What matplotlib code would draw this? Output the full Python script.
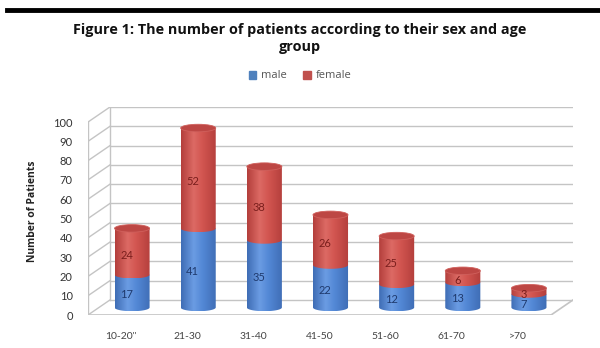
import numpy as np
import matplotlib
matplotlib.use("Agg")
import matplotlib.pyplot as plt
from matplotlib.path import Path
from matplotlib.patches import PathPatch, Ellipse, Rectangle
from matplotlib.colors import LinearSegmentedColormap
from matplotlib.lines import Line2D

categories = ["10-20''", "21-30", "31-40", "41-50", "51-60", "61-70", ">70"]
male = [17, 41, 35, 22, 12, 13, 7]
female = [24, 52, 38, 26, 25, 6, 3]
yticks = list(range(0, 101, 10))

plt.rcParams['font.family'] = ['Lato', 'DejaVu Sans']

DX = 0.332   # depth offset in x units
DY = 7.8     # depth offset in y units
W = 0.53     # cylinder width
EH = 3.9     # ellipse height (y units)
GRID = '#c4c4c4'

fig = plt.figure(figsize=(6.0, 3.48), dpi=100)
fig.patch.set_facecolor('white')
ax = fig.add_axes([88/600, (348-315)/348, 485/600, 208/348])
ax.set_xlim(-0.5, len(categories) - 0.5 + DX)
ax.set_ylim(0, 100 + DY)
for s in ax.spines.values():
    s.set_visible(False)
ax.set_facecolor('none')

n = len(categories)
x0, x1 = -0.5, n - 0.5
# back wall gridlines and side wall lines
for v in yticks:
    ax.plot([x0 + DX, x1 + DX], [v + DY, v + DY], color=GRID, lw=1.0, zorder=1)
    ax.plot([x0, x0 + DX], [v, v + DY], color=GRID, lw=1.0, zorder=1)
ax.plot([x0, x0], [0, 100], color=GRID, lw=1.0, zorder=1)
ax.plot([x0 + DX, x0 + DX], [DY, 100 + DY], color=GRID, lw=1.0, zorder=1)
# floor
ax.plot([x0, x1], [0, 0], color=GRID, lw=1.2, zorder=1)
ax.plot([x1, x1 + DX], [0, DY], color=GRID, lw=1.2, zorder=1)

def grad_cmap(edge, mid, light):
    return LinearSegmentedColormap.from_list('g', [(0, edge), (0.35, light), (0.6, mid), (1, edge)])

blue_cm = grad_cmap('#3f6db5', '#5388d6', '#6b9ce3')
red_cm = grad_cmap('#b43f3c', '#d25550', '#dc6a64')

def body(xc, b, t, cmap, z):
    th = np.linspace(np.pi, 2*np.pi, 60)
    xs = list(xc + W/2*np.cos(th)) + [xc + W/2, xc - W/2]
    ys = list(b + EH/2*np.sin(th)) + [t, t]
    verts = list(zip(xs, ys)) + [(xs[0], ys[0])]
    codes = [Path.MOVETO] + [Path.LINETO]*(len(verts)-2) + [Path.CLOSEPOLY]
    path = Path(verts, codes)
    patch = PathPatch(path, facecolor='none', edgecolor='none', transform=ax.transData)
    ax.add_patch(patch)
    g = np.linspace(0, 1, 64).reshape(1, -1)
    im = ax.imshow(g, cmap=cmap, aspect='auto',
                   extent=[xc - W/2, xc + W/2, b - EH/2, t + EH/2],
                   zorder=z, interpolation='bilinear')
    im.set_clip_path(patch)

for i in range(n):
    xc = i + DX/2
    base = DY/2
    m, f = male[i], female[i]
    body(xc, base, base + m, blue_cm, 3 + i*0.1)
    body(xc, base + m, base + m + f, red_cm, 3.02 + i*0.1)
    ax.add_patch(Ellipse((xc, base + m + f), W, EH, facecolor='#bd4744',
                         edgecolor='#d0605c', lw=0.6, zorder=3.04 + i*0.1))
    ax.text(i + DX*0.25, m/2 + DY*0.25, str(m), ha='center', va='center',
            fontsize=8, color='#1f3a6e', zorder=10)
    ax.text(i + DX*0.25, m + f/2 + DY*0.25, str(f), ha='center', va='center',
            fontsize=8, color='#7a1e1c', zorder=10)

ax.set_xlim(-0.5, len(categories) - 0.5 + DX)
ax.set_ylim(0, 100 + DY)
ax.set_yticks(yticks)
ax.set_yticklabels([str(v) for v in yticks], fontsize=8, color='#333333')
ax.set_xticks(range(n))
ax.set_xticklabels(categories, fontsize=7.5, color='#444444')
ax.tick_params(axis='y', length=0, pad=11)
ax.tick_params(axis='x', length=0, pad=12)
ax.set_ylabel('Number of Patients', fontsize=7.5, fontweight='bold', color='#222222',
              labelpad=11, family=['Open Sans', 'DejaVu Sans'])

fig.text(0.5, 1 - 30/348, 'Figure 1: The number of patients according to their sex and age',
         ha='center', va='center', fontsize=10.4, fontweight='bold', color='#111111',
         family=['Open Sans', 'DejaVu Sans'])
fig.text(0.5, 1 - 47/348, 'group', ha='center', va='center', fontsize=10.4,
         fontweight='bold', color='#111111', family=['Open Sans', 'DejaVu Sans'])

handles = [Rectangle((0, 0), 1, 1, color='#4f81bd'), Rectangle((0, 0), 1, 1, color='#c0504d')]
fig.legend(handles, ['male', 'female'], loc='center', bbox_to_anchor=(0.5, 1 - 76/348),
           ncol=2, frameon=False, fontsize=8, handlelength=0.7, handleheight=0.7,
           handletextpad=0.4, columnspacing=1.5, labelcolor='#555555',
           prop={'family': ['Open Sans', 'DejaVu Sans'], 'size': 8})

fig.add_artist(Line2D([7/600, 1.0], [1 - 10/348, 1 - 10/348], color='black', lw=3.5))

fig.savefig('out.png', dpi=100, facecolor='white')
